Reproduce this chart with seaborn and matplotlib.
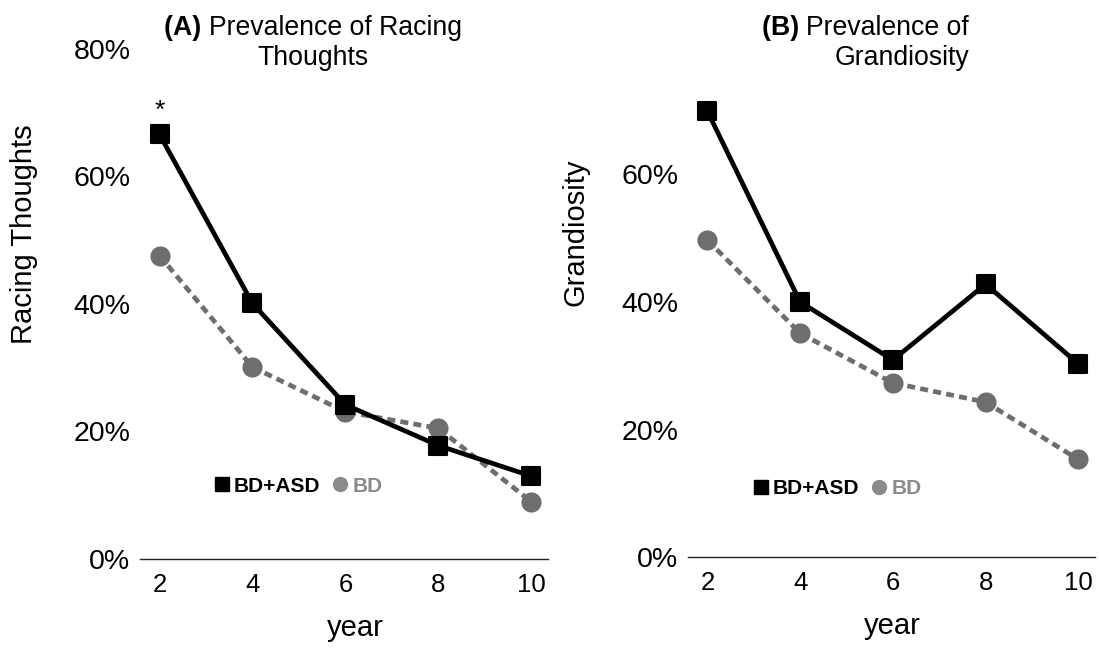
import matplotlib
matplotlib.use("Agg")
import matplotlib.pyplot as plt
from matplotlib.lines import Line2D
from matplotlib.markers import MarkerStyle
from matplotlib.ticker import PercentFormatter
import seaborn as sns

# ---- data ----
years = [2, 4, 6, 8, 10]
racing_bdasd = [0.666, 0.401, 0.242, 0.178, 0.130]
racing_bd = [0.476, 0.301, 0.231, 0.205, 0.090]
grand_bdasd = [0.699, 0.400, 0.309, 0.428, 0.303]
grand_bd = [0.497, 0.351, 0.273, 0.243, 0.153]
series_names = ["BD+ASD", "BD"]
panel_a_title = ["(A)", "Prevalence of Racing", "Thoughts"]
panel_b_title = ["(B)", "Prevalence of", "Grandiosity"]
ylabels = ["Racing Thoughts", "Grandiosity"]

sns.set_theme(style="white")
plt.rcParams["font.family"] = ["Liberation Sans", "DejaVu Sans"]

BLACK = "#000000"
GRAY = "#6e6e6e"
GRAY_TXT = "#8a8a8a"

fig = plt.figure(figsize=(10.99, 6.48), dpi=100)
W, H = 1099, 648
axA = fig.add_axes([140 / W, 1 - 559 / H, 408 / W, 510 / H])
axB = fig.add_axes([688 / W, 1 - 557 / H, 407 / W, 510 / H])

sq = MarkerStyle("s", joinstyle="round")
ci = MarkerStyle("o")

def draw(ax, bdasd, bd, ylabel, yticks):
    sns.lineplot(x=years, y=bd, ax=ax, color=GRAY, lw=3.4,
                 linestyle=(0, (1.7, 1.1)), marker=ci, markersize=14.5,
                 markeredgecolor=GRAY, markeredgewidth=0, zorder=2)
    sns.lineplot(x=years, y=bdasd, ax=ax, color=BLACK, lw=3.4,
                 marker=sq, markersize=13, markeredgecolor=BLACK,
                 markeredgewidth=1.5, zorder=3)
    ax.set_xlim(1.58, 10.36)
    ax.set_ylim(0, 0.8)
    ax.set_xticks(years)
    ax.set_xticklabels([str(y) for y in years])
    ax.set_yticks(yticks)
    ax.yaxis.set_major_formatter(PercentFormatter(1.0, decimals=0))
    for s in ["left", "right", "top"]:
        ax.spines[s].set_visible(False)
    ax.spines["bottom"].set_color("#222222")
    ax.spines["bottom"].set_linewidth(1.0)
    ax.tick_params(axis="y", length=0, pad=7, labelsize=20.5, colors="black")
    ax.tick_params(axis="x", length=0, pad=10, labelsize=18.5, colors="black")
    ax.set_xlabel("year", fontsize=21, color="black")
    ax.set_ylabel(ylabel, fontsize=21, color="black")
    ax.grid(False)
    handles = [
        Line2D([], [], linestyle="none", marker="s", markersize=10, color=BLACK),
        Line2D([], [], linestyle="none", marker="o", markersize=10, color=GRAY_TXT),
    ]
    return handles

hA = draw(axA, racing_bdasd, racing_bd, ylabels[0], [0, 0.2, 0.4, 0.6, 0.8])
hB = draw(axB, grand_bdasd, grand_bd, ylabels[1], [0, 0.2, 0.4, 0.6])

axA.xaxis.set_label_coords(0.527, -0.108)
axB.xaxis.set_label_coords(0.502, -0.108)
axA.yaxis.set_label_coords(-0.25, 0.637)
axB.yaxis.set_label_coords(-0.243, 0.636)

# asterisk
axA.annotate("*", xy=(years[0], racing_bdasd[0]), xytext=(0, 8),
             textcoords="offset points", ha="center", va="bottom",
             fontsize=19, color="black")

# legends
for ax, h, cx, cy in [(axA, hA, 297, 486), (axB, hB, 836, 489)]:
    leg = ax.legend(h, series_names, loc="center",
                    bbox_to_anchor=(cx / W, 1 - cy / H),
                    bbox_transform=fig.transFigure, ncol=2, frameon=False,
                    prop={"weight": "bold", "size": 15}, handletextpad=0.1,
                    columnspacing=0.45, handlelength=1.0,
                    labelcolor=[BLACK, GRAY_TXT])

# titles
ts = 19.2
tA = fig.text(462 / W, 1 - 35 / H, panel_a_title[1], ha="right", va="baseline",
              fontsize=ts, color="black")
axA.annotate(panel_a_title[0] + " ", xy=(0, 0), xycoords=tA, ha="right",
             va="bottom", fontsize=ts, fontweight="bold", color="black",
             annotation_clip=False)
fig.text(313 / W, 1 - 65 / H, panel_a_title[2], ha="center", va="baseline",
         fontsize=ts, color="black")

tB = fig.text(969 / W, 1 - 35 / H, panel_b_title[1], ha="right", va="baseline",
              fontsize=ts, color="black")
axB.annotate(panel_b_title[0] + " ", xy=(0, 0), xycoords=tB, ha="right",
             va="bottom", fontsize=ts, fontweight="bold", color="black",
             annotation_clip=False)
fig.text(969 / W, 1 - 65 / H, panel_b_title[2], ha="right", va="baseline",
         fontsize=ts, color="black")

fig.savefig("out.png", dpi=100, facecolor="white")
